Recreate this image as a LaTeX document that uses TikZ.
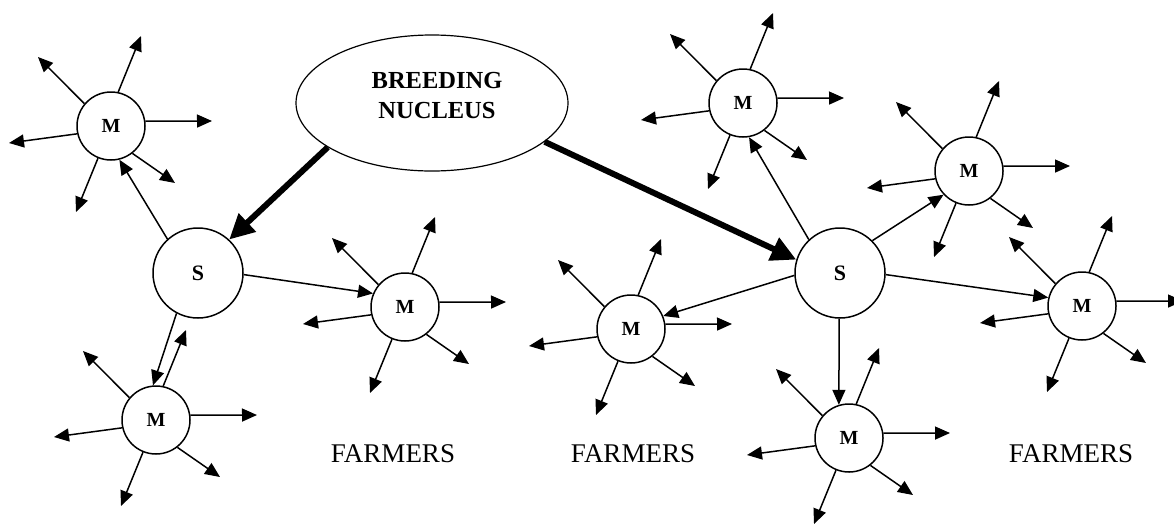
\documentclass[tikz,border=0pt]{standalone}
\usepackage{fontspec}
\setmainfont{Liberation Serif}
\usetikzlibrary{arrows.meta,shapes.geometric}
\newcommand\myspokes[1]{%
  \foreach \a/\dx/\dy [count=\i] in {78/30/-90,140/-73/-69,8/101/-5,193/-102/17,-52/64/57,248/-35/86}{%
    \path (#1.center) ++(\dx,\dy) coordinate (#1-t\i);
    \draw[arr] (#1.\a) -- (#1-t\i);
  }}
\begin{document}
\begin{tikzpicture}[x=1pt,y=-1pt,
  mnode/.style={circle,draw,line width=1.5pt,minimum size=68pt,inner sep=0pt,font=\bfseries\fontsize{20}{20}\selectfont},
  snode/.style={circle,draw,line width=1.5pt,minimum size=90pt,inner sep=0pt,font=\bfseries\fontsize{22}{22}\selectfont},
  ellnode/.style={ellipse,draw,line width=1.2pt,minimum width=272pt,minimum height=136pt,inner sep=0pt},
  arr/.style={line width=1.5pt,-{Triangle[length=15pt,width=13pt]}},
  big/.style={line width=6pt,-{Triangle[length=25pt,width=24pt]}},
  lbl/.style={font=\fontsize{27}{27}\selectfont,anchor=base,inner sep=0pt},
  ttl/.style={font=\bfseries\fontsize{24.5}{30}\selectfont,align=center,inner sep=0pt}
]
\useasboundingbox (0,0) rectangle (1174,523);
% nucleus
\node[ellnode] (ell) at (432,103) {};
\node[ttl] (title) at (437,96) {BREEDING\\NUCLEUS};
% stations
\node[snode] (S1) at (198,273) {\raisebox{-3pt}{S}};
\node[snode] (S2) at (840,273) {\raisebox{-3pt}{S}};
% multipliers
\node[mnode] (M1) at (111,126) {M};
\node[mnode] (M2) at (156,420) {M};
\node[mnode] (M3) at (405,307) {M};
\node[mnode] (M4) at (631,329) {M};
\node[mnode] (M5) at (743,103) {M};
\node[mnode] (M6) at (969,171) {M};
\node[mnode] (M7) at (1082,306) {M};
\node[mnode] (M8) at (849,438) {M};
% labels
\node[lbl] (f1) at (393,462) {FARMERS};
\node[lbl] (f2) at (633,462) {FARMERS};
\node[lbl] (f3) at (1071,462) {FARMERS};
% thick arrows
\draw[big] (ell.203) -- (S1.47);
\draw[big] (ell.-19) -- (S2.163);
% station to multiplier arrows
\draw[arr] (S1.132) -- (M1.-76);
\draw[arr] (S1.-118) -- (M2.95);
\draw[arr] (S1.-2) -- (M3.157);
\draw[arr] (S2.183) -- (M4.22);
\draw[arr] (S2.133) -- (M5.-80);
\draw[arr] (S2.45) -- (M6.223);
\draw[arr] (S2.-2) -- (M7.166);
\draw[arr] (S2.-91) -- (M8.107);
% spokes
\myspokes{M1}\myspokes{M2}\myspokes{M3}\myspokes{M4}
\myspokes{M5}\myspokes{M6}\myspokes{M7}\myspokes{M8}
\end{tikzpicture}
\end{document}
